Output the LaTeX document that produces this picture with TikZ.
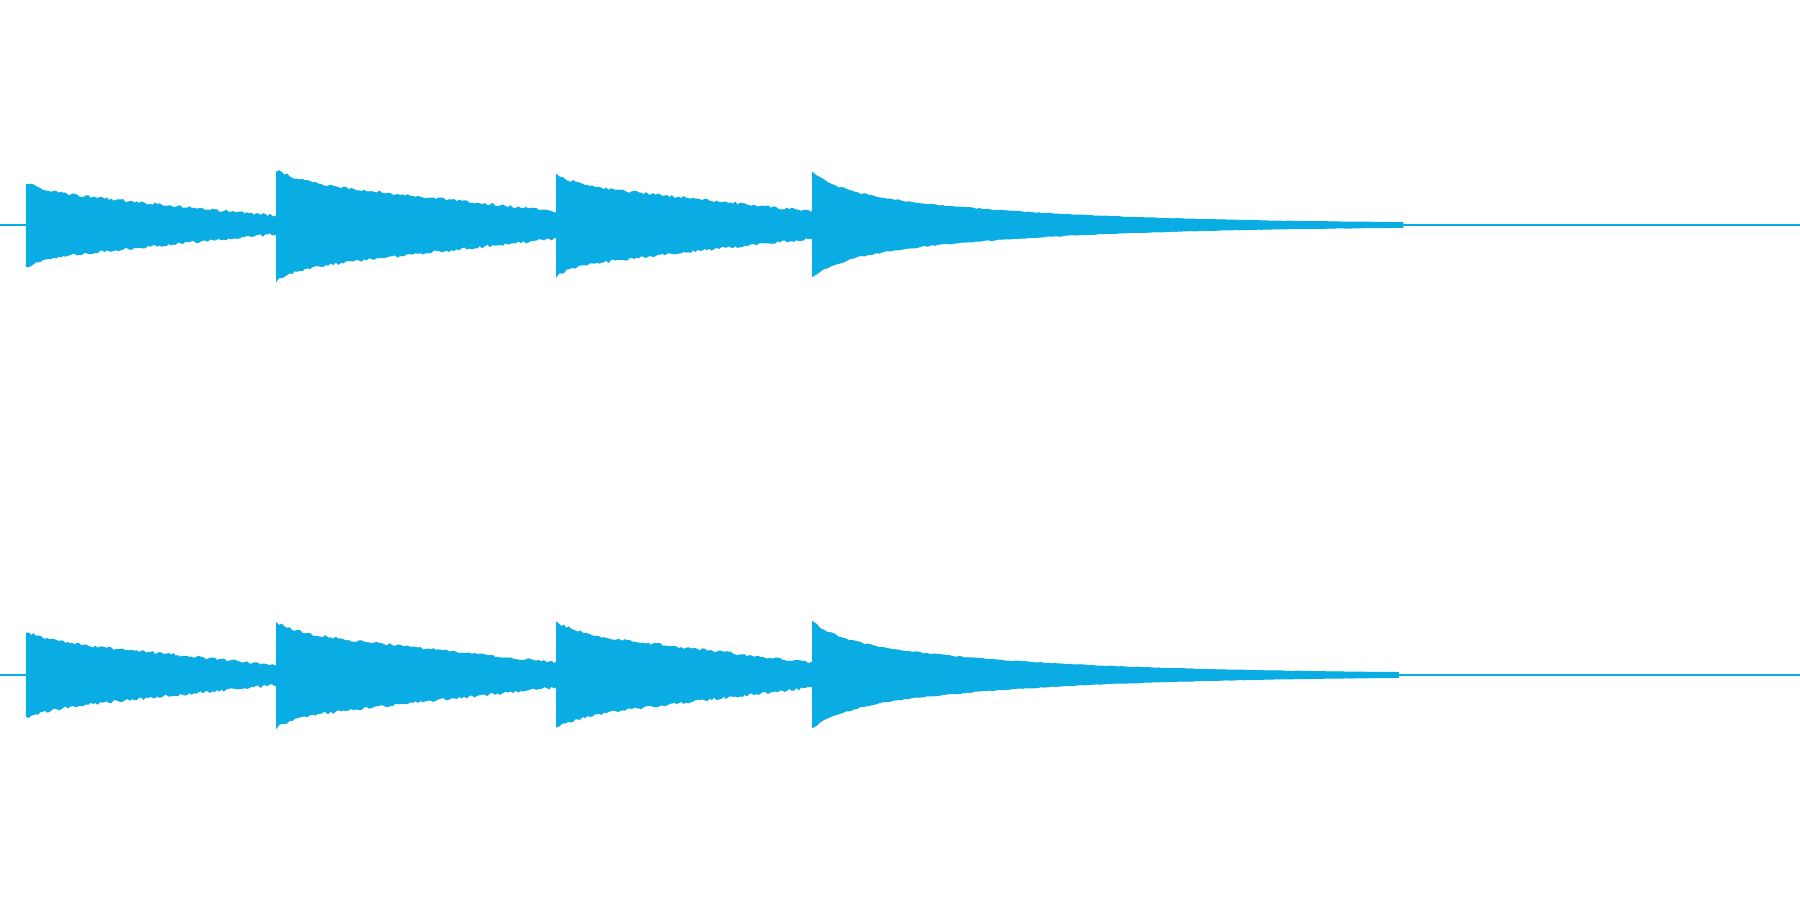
\documentclass[tikz,border=0pt]{standalone}
\usepackage{tikz}
\definecolor{wave}{HTML}{0AADE3}
\tikzset{wavefill/.style={fill=wave, draw=wave, line width=0.3pt},
  axisline/.style={draw=wave, line width=0.6pt}}
\pgfmathsetseed{7}
% burst: start x, end x, centre y, start amplitude, end amplitude
\newcommand{\burst}[5]{%
  \fill[wavefill] plot[domain=#1:#2, samples=110]
      (\x, {#3 - (#5 + (#4-#5)*(0.25*exp(-(\x-#1)/20) + 0.75*(1-(\x-#1)/(#2-#1)))) - 2.5*rnd})
    -- plot[domain=#2:#1, samples=110]
      (\x, {#3 + (#5 + (#4-#5)*(0.25*exp(-(\x-#1)/20) + 0.75*(1-(\x-#1)/(#2-#1)))) + 2.5*rnd}) -- cycle;}
% last burst: start x, end x, centre y, start amplitude
\newcommand{\tailburst}[4]{%
  \fill[wavefill] plot[domain=#1:#2, samples=160]
      (\x, {#3 - 0.5 - #4*(0.3*exp(-(\x-#1)/25) + 0.7*exp(-(\x-#1)/170)) - 2*rnd*exp(-(\x-#1)/200)})
    -- plot[domain=#2:#1, samples=160]
      (\x, {#3 + 0.5 + #4*(0.3*exp(-(\x-#1)/25) + 0.7*exp(-(\x-#1)/170)) + 2*rnd*exp(-(\x-#1)/200)}) -- cycle;}
\begin{document}
\begin{tikzpicture}[x=0.01148cm, y=-0.01148cm]
  \useasboundingbox (0,0) rectangle (1568,784);
  % channel lines
  \coordinate (la) at (0,196);  \coordinate (ra) at (1568,196);
  \coordinate (lb) at (0,588);  \coordinate (rb) at (1568,588);
  \draw[axisline] (la) -- (ra);
  \draw[axisline] (lb) -- (rb);
  % top channel
  \burst{23}{241}{196}{35}{6}
  \burst{241}{485}{196}{46}{10}
  \burst{485}{708}{196}{42}{10}
  \tailburst{708}{1222}{196}{43}
  % bottom channel
  \burst{23}{241}{588}{36}{7}
  \burst{241}{485}{588}{44}{9}
  \burst{485}{708}{588}{44}{9}
  \tailburst{708}{1218}{588}{44}
\end{tikzpicture}
\end{document}
